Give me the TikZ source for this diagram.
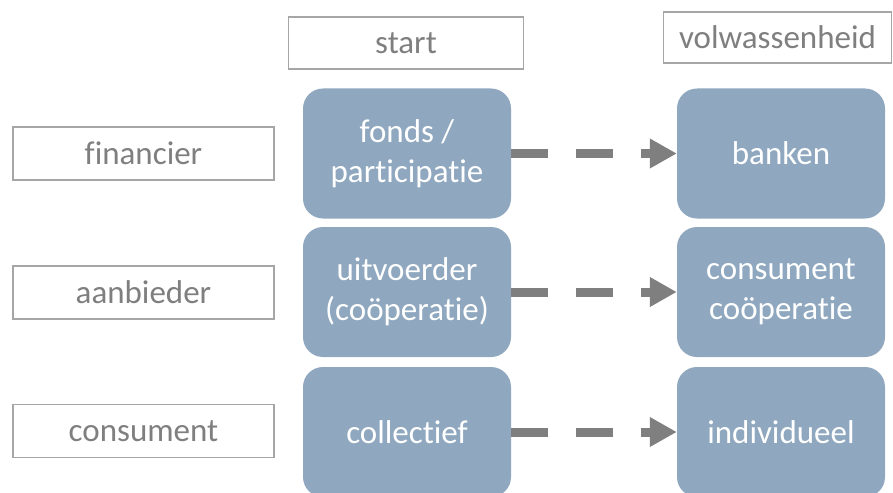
\documentclass[tikz,border=0pt]{standalone}
\usepackage{fontspec}
\setmainfont{Carlito}[Ligatures={NoCommon}]
\usetikzlibrary{arrows.meta}
\definecolor{boxblue}{RGB}{143,168,191}
\definecolor{labgray}{RGB}{127,127,127}
\definecolor{edgegray}{RGB}{166,166,166}
\definecolor{arrgray}{RGB}{127,127,127}
\tikzset{
  labelbox/.style={draw=edgegray, line width=1.2pt, fill=white, text=labgray,
    font=\fontsize{33}{40}\selectfont, inner sep=0pt, anchor=center},
  bluebox/.style={fill=boxblue, rounded corners=20pt, text=white, align=center,
    minimum width=208pt, minimum height=130pt, inner sep=0pt,
    font=\fontsize{33}{40}\selectfont, anchor=center},
  flowarrow/.style={draw=arrgray, line width=9pt, dash pattern=on 37pt off 28pt,
    -{Triangle[length=27pt,width=28pt]}}
}
\begin{document}
\begin{tikzpicture}[x=1pt,y=-1pt]
\clip (0,0) rectangle (893,492);
\fill[white] (0,0) rectangle (893,492);
% column headers
\node[labelbox, minimum width=235pt, minimum height=52pt] (hstart) at (406,43) {start};
\node[labelbox, minimum width=228pt, minimum height=51pt] (hvol) at (777.5,37.5) {volwassenheid};
% row labels
\node[labelbox, minimum width=261pt, minimum height=53pt] (lfin) at (143.5,153.5) {financier};
\node[labelbox, minimum width=261pt, minimum height=53pt] (laan) at (143.5,292.5) {aanbieder};
\node[labelbox, minimum width=261pt, minimum height=53pt] (lcon) at (143.5,431) {consument};
% blue boxes
\node[bluebox] (a1) at (407,153.5) {fonds /\\participatie};
\node[bluebox] (b1) at (781,153.5) {banken};
\node[bluebox] (a2) at (407,292) {uitvoerder\\(coöperatie)};
\node[bluebox] (b2) at (781,292) {consument\\coöperatie};
\node[bluebox] (a3) at (407,432) {collectief};
\node[bluebox] (b3) at (781,432) {individueel};
% arrows
\draw[flowarrow] (a1.east) -- (b1.west);
\draw[flowarrow] (a2.east) -- (b2.west);
\draw[flowarrow] (a3.east) -- (b3.west);
\end{tikzpicture}
\end{document}
